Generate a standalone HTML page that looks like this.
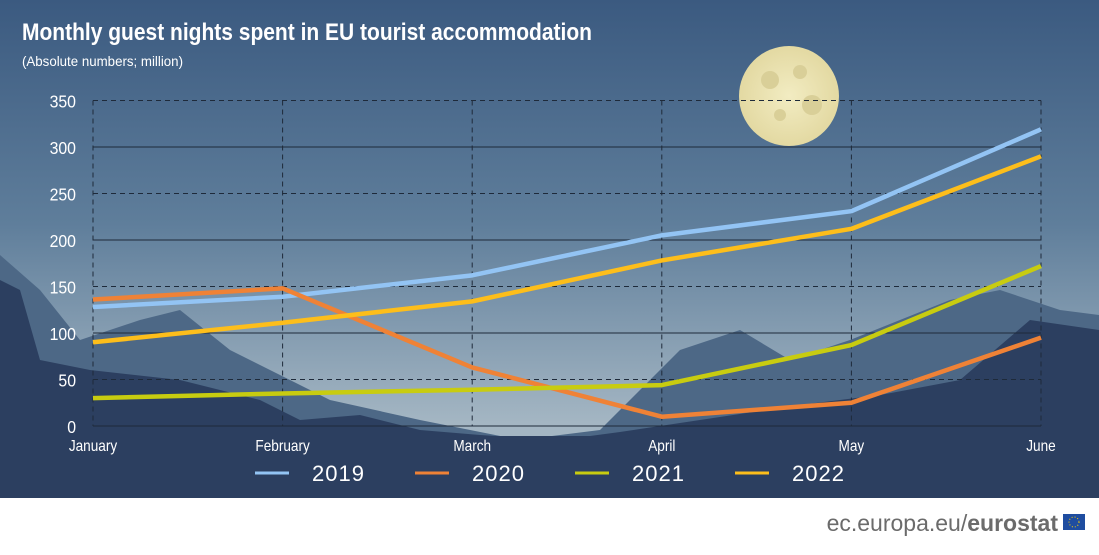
<!DOCTYPE html>
<html><head><meta charset="utf-8"><style>
body{margin:0;width:1099px;height:550px;overflow:hidden;background:#fff;font-family:"Liberation Sans",sans-serif}
svg text{font-family:"Liberation Sans",sans-serif}
</style></head><body>
<svg width="1099" height="550">
<defs><linearGradient id="sky" x1="0" y1="0" x2="0" y2="1">
<stop offset="0" stop-color="#3b5a80"/><stop offset="0.45" stop-color="#5f7e9b"/><stop offset="0.85" stop-color="#a4b6c3"/></linearGradient>
<radialGradient id="moon"><stop offset="0" stop-color="#f2ecc2"/><stop offset="1" stop-color="#e3d9a2"/></radialGradient></defs>
<rect width="1099" height="498" fill="url(#sky)"/>
<g><circle cx="789" cy="96" r="50" fill="url(#moon)"/>
<circle cx="770" cy="80" r="9" fill="#d9cf98"/><circle cx="800" cy="72" r="7" fill="#d9cf98"/><circle cx="812" cy="105" r="10" fill="#d9cf98"/><circle cx="780" cy="115" r="6" fill="#d9cf98"/></g>
<path fill="#4d6886" d="M0,255 L40,290 L80,340 L140,320 L180,310 L230,350 L330,400 L420,420 L520,440 L600,430 L680,350 L740,330 L790,360 L850,340 L950,300 L1000,290 L1060,310 L1099,315 L1099,498 L0,498Z"/>
<path fill="#2c3f60" d="M0,280 L20,290 L40,360 L90,370 L180,380 L260,400 L300,420 L360,415 L420,430 L480,435 L560,440 L620,432 L700,420 L800,405 L880,395 L960,380 L1030,320 L1099,330 L1099,498 L0,498Z"/>
<rect y="436" width="1099" height="62" fill="#2c3f60"/>
<text x="22" y="40" font-size="24" font-weight="bold" fill="#fff" textLength="570" lengthAdjust="spacingAndGlyphs">Monthly guest nights spent in EU tourist accommodation</text>
<text x="22" y="66" font-size="14" fill="#fff" textLength="161" lengthAdjust="spacingAndGlyphs">(Absolute numbers; million)</text>
<g id="grid"></g><g id="lines"></g><g id="legend"></g>
<text x="1058" y="531" font-size="23" text-anchor="end" fill="#6b6b6b">ec.europa.eu/<tspan font-weight="bold">eurostat</tspan></text>
<rect x="1063" y="514" width="22" height="16" fill="#1f4da0"/>
<circle cx="1074" cy="522" r="5" fill="none" stroke="#ffd200" stroke-dasharray="1 2"/>
</svg>
<script>
const months=["January","February","March","April","May","June"];
const yTicks=[0,50,100,150,200,250,300,350];
const years=["2019","2020","2021","2022"];
const colors=["#93c4f4","#ef8236","#c8cc10","#fdbe1b"];
const s2019=[128,139,162,205,231,319];
const s2020=[136,148,63,10,25,95];
const s2021=[30,35,39,44,87,172];
const s2022=[90,111,134,178,212,290];
const series=[s2019,s2020,s2021,s2022];
const NS="http://www.w3.org/2000/svg";
const x=i=>93+i*(1041-93)/5, y=v=>426-v*0.93;
function mk(t,a,p){const e=document.createElementNS(NS,t);for(const k in a)e.setAttribute(k,a[k]);p.appendChild(e);return e;}
const g=document.getElementById('grid');
yTicks.forEach(v=>{
 const l=mk('line',{x1:93,x2:1041,y1:y(v),y2:y(v),stroke:'#1e2a3a','stroke-width':1,'stroke-dasharray':v%100==0?'':'5 4'},g);
 
 
 const t=mk('text',{x:76,y:y(v)+7,'text-anchor':'end','font-size':18,fill:'#fff',transform:`translate(76 0) scale(0.88 1) translate(-76 0)`},g);t.textContent=v;
 
 
});
months.forEach((m,i)=>{
 const l=mk('line',{x1:x(i),x2:x(i),y1:y(350),y2:y(0),stroke:'#1e2a3a','stroke-dasharray':'5 4'},g);
 
 
 const t=mk('text',{x:x(i),y:451,'text-anchor':'middle','font-size':16,fill:'#fff',transform:`translate(${x(i)} 0) scale(0.85 1) translate(${-x(i)} 0)`},g);t.textContent=m;
 
 
});
const L=document.getElementById('lines');
series.forEach((s,k)=>{
 const p=mk('polyline',{points:s.map((v,i)=>x(i)+','+y(v)).join(' '),fill:'none',stroke:colors[k],'stroke-width':4.5,'stroke-linejoin':'round'},L);
 
 
});
const lg=document.getElementById('legend');
years.forEach((yr,k)=>{
 const x0=255+k*160;
 const l=mk('line',{x1:x0,x2:x0+34,y1:473,y2:473,stroke:colors[k],'stroke-width':3},lg);
 
 
 const t=mk('text',{x:x0+57,y:481,'font-size':22,fill:'#fff','letter-spacing':'1'},lg);t.textContent=yr;
 
 
});
</script>
</body></html>
